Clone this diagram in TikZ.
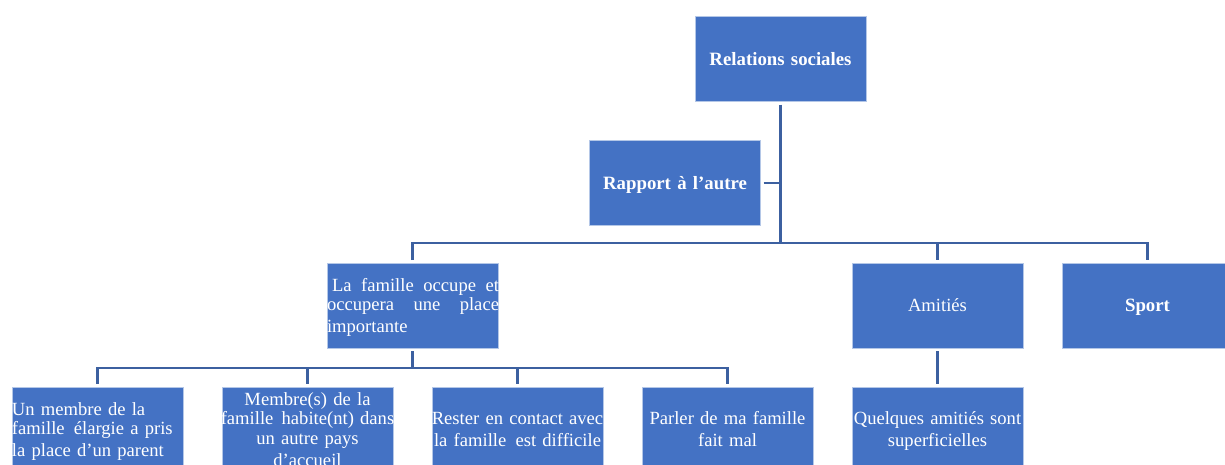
\documentclass[tikz,border=0pt]{standalone}
\usepackage{fontspec}
\setmainfont{Liberation Serif}
\definecolor{boxblue}{RGB}{68,114,196}
\definecolor{linkblue}{RGB}{60,96,160}
\newcommand\ws{\rule[-0.216em]{0pt}{1.107em}}
\newcommand\jl[1]{\leavevmode\makebox[172pt][l]{#1}}
\begin{document}
\begin{tikzpicture}[x=1pt,y=-1pt,
  box/.style={fill=boxblue,draw=white!60!boxblue,line width=0.8pt,text=white,
    minimum width=171pt,minimum height=85pt,text width=187pt,inner xsep=-8pt,inner ysep=0pt,outer sep=3pt,
    font=\fontsize{18.6}{19.5}\selectfont,align=center},
  bbox/.style={box,font=\fontsize{18.8}{19.5}\selectfont\bfseries},
  lbox/.style={box,align=left,text width=171pt,inner xsep=0pt},
  link/.style={draw=linkblue,line width=2.6pt,line join=miter}]
\useasboundingbox (0,0) rectangle (1225,464);
\clip (0,0) rectangle (1225,464);
\node[bbox] (rel) at (780.5,59) {\ws Relations sociales};
\node[bbox] (rap) at (675,183) {\ws Rapport à l’autre};
\node[lbox] (fam) at (412.5,305.5) {\ws\jl{\hspace*{5pt}La\hfill famille\hfill occupe\hfill et}\\\jl{occupera\hfill une\hfill place}\\importante\ws};
\node[box] (ami) at (937.5,305.5) {\ws Amitiés};
\node[bbox] (spo) at (1147.5,305.5) {\ws Sport};
\node[lbox] (b1) at (97.5,429.5) {\ws Un membre de la\\famille\hspace{3pt} élargie a pris\\la place d’un parent\ws};
\node[box] (b2) at (307.5,429.5) {\ws Membre(s) de la\\famille\hspace{2pt} habite(nt) dans\\un autre pays\\d’accueil\ws};
\node[box] (b3) at (517.5,429.5) {\ws Rester en contact avec\\la famille\hspace{3pt} est difficile\ws};
\node[box] (b4) at (727.5,429.5) {\ws Parler de ma famille\\fait mal\ws};
\node[box] (q) at (937.5,429.5) {\ws Quelques amitiés sont\\superficielles\ws};
\coordinate (tb) at (780.5,243);
\coordinate (bb) at (412.5,368);
\draw[link] (rel) -- (tb);
\draw[link] (rap) -- (rap -| tb);
\draw[link] (fam) |- (tb) -| (spo);
\draw[link] (ami |- tb) -- (ami);
\draw[link] (ami) -- (q);
\draw[link] (fam) -- (bb);
\draw[link] (b1) |- (bb) -| (b4);
\draw[link] (b2 |- bb) -- (b2);
\draw[link] (b3 |- bb) -- (b3);
\end{tikzpicture}
\end{document}
